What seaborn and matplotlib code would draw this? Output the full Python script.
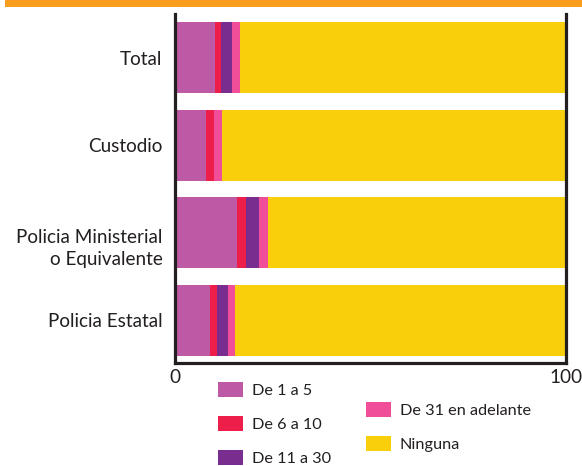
import numpy as np
import pandas as pd
import matplotlib
matplotlib.use("Agg")
import matplotlib.pyplot as plt
import matplotlib.transforms as mtransforms
import seaborn as sns
from matplotlib.patches import Patch, Rectangle

categories = ["Total", "Custodio", "Policia Ministerial\no Equivalente", "Policia Estatal"]
series_names = ["De 1 a 5", "De 6 a 10", "De 11 a 30", "De 31 en adelante", "Ninguna"]
de_1_a_5 = [10.2, 7.9, 15.9, 9.0]
de_6_a_10 = [1.5, 2.0, 2.3, 1.8]
de_11_a_30 = [2.8, 0.0, 3.3, 2.8]
de_31_mas = [2.0, 2.0, 2.3, 1.8]
ninguna = [83.5, 88.1, 76.2, 84.6]
x_ticks = [0, 100]

colors = ["#BE5AA5", "#EE1E4A", "#792D8F", "#F04E98", "#F9CF0B"]
text_color = "#231F20"

sns.set_theme(style="white")
plt.rcParams["font.family"] = ["Lato", "DejaVu Sans"]

series = [de_1_a_5, de_6_a_10, de_11_a_30, de_31_mas, ninguna]
cum = np.cumsum(np.array(series), axis=0)

fig = plt.figure(figsize=(5.82, 4.66), dpi=100)
ax = fig.add_axes([0.3007, 0.221, 0.6718, 0.749])

# stacked bars: draw cumulative totals from the outermost segment inward
for i in range(len(series) - 1, -1, -1):
    df = pd.DataFrame({"categoria": categories, "valor": cum[i]})
    sns.barplot(data=df, x="valor", y="categoria", orient="h", color=colors[i],
                saturation=1, width=0.81, ax=ax, linewidth=0)

ax.set_xlim(0, 100)
ax.set_ylim(3.49, -0.5)
ax.set_xlabel("")
ax.set_ylabel("")
ax.set_xticks(x_ticks)
ax.set_xticklabels([str(t) for t in x_ticks])
ax.tick_params(axis="both", length=0, labelsize=13.6, colors=text_color)
ax.tick_params(axis="y", pad=9)
ax.tick_params(axis="x", pad=4)

# two-line label: first line sits on the bar centre, second hangs below
for lbl in ax.get_yticklabels():
    if "\n" in lbl.get_text():
        lbl.set_linespacing(1.38)
        lbl.set_transform(lbl.get_transform() +
                          mtransforms.ScaledTranslation(0, -8.3 / 72, fig.dpi_scale_trans))

for side in ["left", "right", "bottom"]:
    ax.spines[side].set_visible(True)
    ax.spines[side].set_color(text_color)
    ax.spines[side].set_linewidth(2.3)
ax.spines["top"].set_visible(False)

# orange band at the top edge
fig.patches.append(Rectangle((0.008, 1 - 7 / 466), 0.992, 7 / 466, transform=fig.transFigure,
                             facecolor="#F99D1C", edgecolor="none"))

handles = [Patch(facecolor=c, edgecolor="none") for c in colors]
legend_kw = dict(loc="upper left", frameon=False, fontsize=11.7,
                 handlelength=1.54, handleheight=1.05, labelspacing=1.1,
                 handletextpad=0.55, borderaxespad=0, borderpad=0,
                 labelcolor=text_color)
fig.legend(handles[:3], series_names[:3], bbox_to_anchor=(0.3746, 0.1803), **legend_kw)
fig.legend(handles[3:], series_names[3:], bbox_to_anchor=(0.6289, 0.1373), **legend_kw)

fig.savefig("out.png", dpi=100)
